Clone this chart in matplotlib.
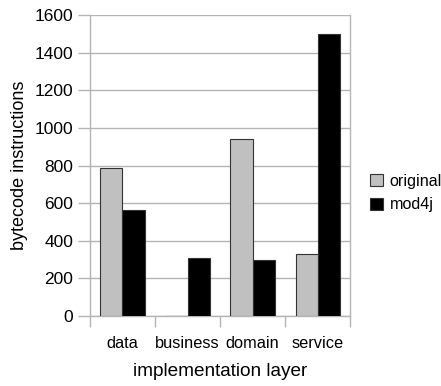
import matplotlib
matplotlib.use('Agg')
import matplotlib.pyplot as plt
import numpy as np

plt.rcParams['font.family'] = ['Liberation Sans', 'DejaVu Sans']

categories = ['data', 'business', 'domain', 'service']
original = [787, 0, 942, 330]
mod4j = [563, 310, 298, 1497]

GRID = '#b4b4b4'

fig = plt.figure(figsize=(4.41, 3.86), dpi=100)
ax = fig.add_axes([0.204, 0.181, 0.59, 0.78])

x = np.arange(len(categories))
w = 0.34
ax.bar(x - w / 2, original, w, color='#c0c0c0', edgecolor='#333333', linewidth=0.8,
       label='original', zorder=3)
ax.bar(x + w / 2, mod4j, w, color='black', edgecolor='#333333', linewidth=0.8,
       label='mod4j', zorder=3)

ax.set_xlim(-0.5, len(categories) - 0.5)
ax.set_ylim(0, 1600)
ax.set_yticks(np.arange(0, 1601, 200))
ax.yaxis.grid(True, color=GRID, linewidth=1.0, zorder=0)

# boundaries as major ticks, names on minor ticks
ax.set_xticks(np.arange(-0.5, len(categories), 1.0))
ax.set_xticklabels([])
ax.set_xticks(x, minor=True)
ax.set_xticklabels(categories, minor=True, fontsize=11.8)
ax.tick_params(axis='x', which='major', length=8, color=GRID, width=1)
ax.tick_params(axis='x', which='minor', length=0, pad=14)
ax.tick_params(axis='y', length=9, color=GRID, width=1, labelsize=12.5, pad=3)

for s in ['left', 'right', 'bottom']:
    ax.spines[s].set_color(GRID)
    ax.spines[s].set_linewidth(1)
ax.spines['top'].set_visible(False)

ax.set_xlabel('implementation layer', fontsize=13.7, labelpad=9)
ax.set_ylabel('bytecode instructions', fontsize=13, labelpad=5)

fig.legend(loc='center left', bbox_to_anchor=(0.825, 0.5), frameon=False,
           fontsize=11.6, handlelength=0.8, handleheight=0.8, handletextpad=0.4,
           borderaxespad=0, labelspacing=0.55)

fig.savefig('out.png', dpi=100)
